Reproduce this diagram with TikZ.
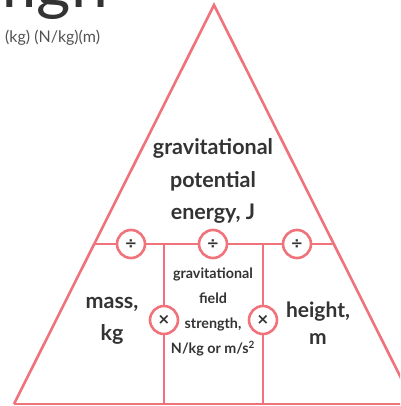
\documentclass[tikz,border=0pt]{standalone}
\usepackage{fontspec}
\setmainfont{Lato}
\newfontfamily\opfont{DejaVu Sans}
\definecolor{pk}{HTML}{F0727A}
\definecolor{tx}{HTML}{333333}
\begin{document}
\begin{tikzpicture}[x=1pt,y=-1pt,
  edge/.style={draw=pk,line width=2.6pt},
  opcircle/.style={circle,draw=pk,line width=2.6pt,fill=white,minimum size=28pt,inner sep=0pt,text=tx,font=\opfont\bfseries\fontsize{15}{15}\selectfont},
  bigtxt/.style={text=tx,align=center},
  smalltxt/.style={text=tx,font=\bfseries\fontsize{14.3}{25}\selectfont,align=center}]
\useasboundingbox (0,0) rectangle (400,406);
\clip (0,0) rectangle (400,406);
% formula
\node[anchor=base east,inner sep=0pt,text=tx,font=\fontsize{66}{68}\selectfont] (f) at (108,8) {mgh};
\node[anchor=base west,inner sep=0pt,text=tx!85,font=\fontsize{16}{17}\selectfont] (u) at (5,43) {(kg) (N/kg)(m)};
% triangle
\coordinate (A) at (214,5);
\coordinate (L) at (14,404);
\coordinate (R) at (414,404);
\coordinate (HL) at (94.3,244);
\coordinate (HR) at (333.7,244);
\coordinate (V1t) at (164,244);
\coordinate (V1b) at (164,404);
\coordinate (V2t) at (263,244);
\coordinate (V2b) at (263,404);
\draw[edge,line join=miter] (L) -- (A) -- (R);
\draw[edge] (L) -- (R);
\draw[edge] (HL) -- (HR);
\draw[edge] (V1t) -- (V1b);
\draw[edge] (V2t) -- (V2b);
% operators
\node[opcircle] (d1) at (131,244) {÷};
\node[opcircle] (d2) at (213,244) {÷};
\node[opcircle] (d3) at (297,244) {÷};
\node[opcircle] (m1) at (164,320) {×};
\node[opcircle] (m2) at (263,320) {×};
% texts
\node[bigtxt,font=\bfseries\fontsize{21.5}{32.5}\selectfont] (gpe) at (213,181) {gravitational\\potential\\energy, J};
\node[bigtxt,font=\bfseries\fontsize{21.5}{32}\selectfont] (mass) at (112,321) {mass,\\kg};
\node[bigtxt,font=\bfseries\fontsize{21}{27}\selectfont] (h) at (318,323) {height,\\m};
\node[smalltxt] (g) at (213,312) {gravitational\\field\\strength,\\N/kg or m/s\textsuperscript{2}};
\end{tikzpicture}
\end{document}
